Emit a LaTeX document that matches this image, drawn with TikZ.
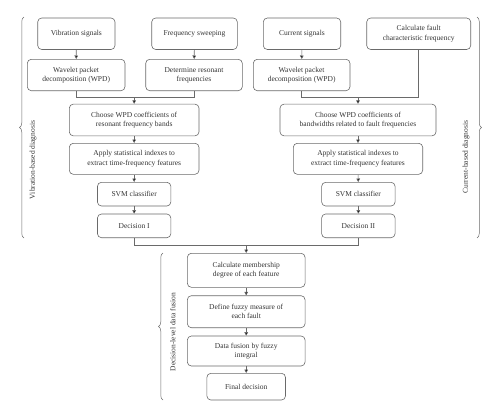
\documentclass[tikz,border=0pt]{standalone}
\usepackage{fontspec}
\setmainfont{Liberation Serif}
\usetikzlibrary{arrows.meta,decorations.pathreplacing}
\definecolor{boxline}{HTML}{6A6A6A}
\definecolor{txt}{HTML}{333333}
\begin{document}
\begin{tikzpicture}[x=1pt,y=-1pt,
  box/.style={draw=boxline,line width=0.6pt,rounded corners=4pt,align=center,
    text=txt,font=\fontsize{7.5}{9.3}\selectfont,inner sep=1pt},
  conn/.style={draw=boxline,line width=0.6pt},
  arr/.style={conn,-{Triangle[length=3.5pt,width=3.6pt,fill=black]}},
  brc/.style={draw=boxline,line width=0.5pt,decorate,decoration={brace,amplitude=4.5pt}},
  side/.style={rotate=90,text=txt,font=\fontsize{7.5}{9}\selectfont}]
\useasboundingbox (0,0) rectangle (500,418);
% top row
\node[box,minimum width=77.3pt,minimum height=31.5pt] (vs) at (76.35,33.75) {Vibration signals};
\node[box,minimum width=85.6pt,minimum height=31.5pt] (fs) at (194.5,33.75) {Frequency sweeping};
\node[box,minimum width=77.4pt,minimum height=31.5pt] (cs) at (302,33.75) {Current signals};
\node[box,minimum width=104pt,minimum height=31.5pt] (cf) at (418.7,33.75) {Calculate fault\\characteristic frequency};
% WPD row
\node[box,minimum width=97.7pt,minimum height=31.4pt] (wl) at (76.15,75) {Wavelet packet\\decomposition (WPD)};
\node[box,minimum width=96.6pt,minimum height=31.4pt] (dr) at (194,75) {Determine resonant\\frequencies};
\node[box,minimum width=96.7pt,minimum height=31.4pt] (wr) at (301.65,75) {Wavelet packet\\decomposition (WPD)};
% choose
\node[box,minimum width=129.7pt,minimum height=31.7pt] (chl) at (134.15,120) {Choose WPD coefficients of\\resonant frequency bands};
\node[box,minimum width=156pt,minimum height=31.7pt] (chr) at (358,120) {Choose WPD coefficients of\\bandwidths related to fault frequencies};
% apply
\node[box,minimum width=129.7pt,minimum height=31pt] (apl) at (134.15,158.8) {Apply statistical indexes to\\extract time-frequency features};
\node[box,minimum width=129.4pt,minimum height=31pt] (apr) at (358,158.8) {Apply statistical indexes to\\extract time-frequency features};
% svm
\node[box,minimum width=73.4pt,minimum height=23.7pt] (svl) at (134.15,194.15) {SVM classifier};
\node[box,minimum width=73.4pt,minimum height=23.7pt] (svr) at (358.35,194.15) {SVM classifier};
% decision
\node[box,minimum width=73.4pt,minimum height=23.7pt] (d1) at (134.15,225.85) {Decision I};
\node[box,minimum width=73.4pt,minimum height=23.7pt] (d2) at (358.35,225.85) {Decision II};
% fusion
\node[box,minimum width=117.7pt,minimum height=34pt] (cm) at (246.2,270.3) {Calculate membership\\degree of each feature};
\node[box,minimum width=117.7pt,minimum height=32pt] (df) at (246.2,311.7) {Define fuzzy measure of\\each fault};
\node[box,minimum width=117.7pt,minimum height=30pt] (fi) at (246.2,351) {Data fusion by fuzzy\\integral};
\node[box,minimum width=78.6pt,minimum height=26.7pt] (fd) at (246.2,386.65) {Final decision};
% connectors
\draw[arr] (vs) -- (wl);
\draw[arr] (fs) -- (dr);
\draw[arr] (cs) -- (wr);
\coordinate (ml) at (134.15,97.6);
\coordinate (mr) at (358,97.6);
\draw[conn] (wl.south) |- (ml) -| (dr.south);
\draw[arr] (ml) -- (chl);
\draw[conn] (wr.south) |- (mr) -| (cf.south);
\draw[arr] (mr) -- (chr);
\draw[arr] (chl) -- (apl);
\draw[arr] (apl) -- (svl);
\draw[arr] (svl) -- (d1);
\draw[arr] (chr) -- (apr);
\draw[arr] (apr) -- (svr);
\draw[arr] (svr) -- (d2);
\coordinate (mf) at (246.2,245.5);
\draw[conn] (d1.south) |- (mf) -| (d2.south);
\draw[arr] (mf) -- (cm);
\draw[arr] (cm) -- (df);
\draw[arr] (df) -- (fi);
\draw[arr] (fi) -- (fd);
% braces
\draw[brc] (24,238) -- (24,17);
\draw[brc] (477,17) -- (477,238);
\draw[brc] (163,400) -- (163,253);
\node[side] (lv) at (33,160) {Vibration-based diagnosis};
\node[side] (lc) at (466,157) {Current-based diagnosis};
\node[side] (ld) at (172.7,332) {Decision-level data fusion};
\end{tikzpicture}
\end{document}
